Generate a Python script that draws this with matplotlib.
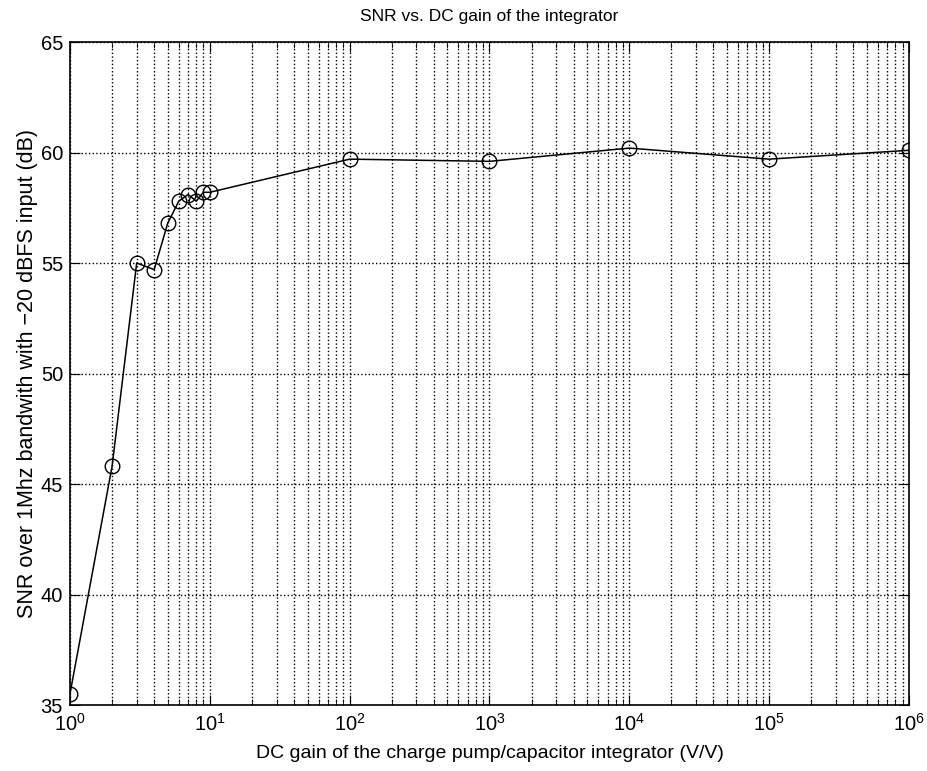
import matplotlib.pyplot as plt
from matplotlib.ticker import LogLocator, NullFormatter

plt.rcParams['font.family'] = ['Liberation Sans', 'DejaVu Sans']

# DC gain of the integrator (V/V) and the resulting SNR (dB)
gain = [1, 2, 3, 4, 5, 6, 7, 8, 9, 10, 1e2, 1e3, 1e4, 1e5, 1e6]
snr = [35.5, 45.8, 55.0, 54.7, 56.8, 57.8, 58.1, 57.8, 58.2, 58.2,
       59.7, 59.6, 60.2, 59.7, 60.1]

y_ticks = [35, 40, 45, 50, 55, 60, 65]

fig = plt.figure(figsize=(9.28, 7.71), dpi=100)
ax = fig.add_axes([0.0754, 0.0856, 0.9041, 0.8599])

ax.semilogx(gain, snr, '-o', color='black', lw=1.1, markersize=10.5,
            markerfacecolor='none', markeredgewidth=1)

ax.set_xlim(1, 1e6)
ax.set_ylim(35, 65)
ax.set_yticks(y_ticks)
ax.xaxis.set_major_locator(LogLocator(base=10, numticks=10))
ax.xaxis.set_minor_locator(LogLocator(base=10, subs=range(2, 10), numticks=100))
ax.xaxis.set_minor_formatter(NullFormatter())

# MATLAB-like dotted grid and inward ticks on all sides
ax.grid(True, which='major', axis='both', ls=':', color='black', lw=1)
ax.grid(True, which='minor', axis='x', ls=':', color='black', lw=1)
ax.tick_params(which='both', direction='in', top=True, right=True, labelsize=14.5)
ax.tick_params(which='major', length=7)
ax.tick_params(which='minor', length=4)
ax.tick_params(axis='x', pad=6)
ax.tick_params(axis='y', pad=5)
for s in ax.spines.values():
    s.set_linewidth(1.2)

ax.set_title('SNR vs. DC gain of the integrator', fontsize=12.5, pad=15)
ax.set_xlabel('DC gain of the charge pump/capacitor integrator (V/V)', fontsize=14, labelpad=7)
ax.set_ylabel('SNR over 1Mhz bandwith with \u221220 dBFS input (dB)', fontsize=15.5, labelpad=2)

fig.savefig('out.png', dpi=100)
